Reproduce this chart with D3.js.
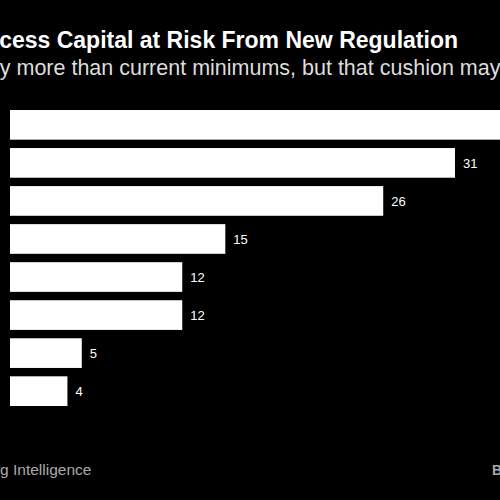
<!DOCTYPE html>
<html><head><meta charset="utf-8">
<script src="https://cdn.jsdelivr.net/npm/d3@7"></script>
<style>body{margin:0;background:#000}svg{display:block}</style>
</head><body>
<script>
// bar values, top to bottom (top bar runs off the crop)
const banks = ["A", "B", "C", "D", "E", "F", "G", "H"];
const values = [36, 31, 26, 15, 12, 12, 5, 4];
const labels = ["", "31", "26", "15", "12", "12", "5", "4"];

const W = 500, H = 500;
const svg = d3.select("body").append("svg").attr("width", W).attr("height", H)
    .style("background", "#000");

const x = d3.scaleLinear().domain([0, 31]).range([10, 455]);
const y = d3.scaleBand().domain(banks).range([110, 406]).paddingInner(0.22).paddingOuter(0);

const font = "Liberation Sans, Arial, sans-serif";

svg.append("text").attr("x", -29).attr("y", 48)
    .attr("fill", "#fff").attr("font-family", font)
    .attr("font-weight", "bold").attr("font-size", 23)
    .text("Excess Capital at Risk From New Regulation");
svg.append("text").attr("x", -103).attr("y", 75)
    .attr("fill", "#ddd").attr("font-family", font)
    .attr("font-size", 21.5)
    .text("Banks carry more than current minimums, but that cushion may shrink");

svg.selectAll("rect.bar").data(values).join("rect")
    .attr("class", "bar")
    .attr("x", x(0))
    .attr("y", (d, i) => y(banks[i]))
    .attr("width", d => x(d) - x(0))
    .attr("height", y.bandwidth())
    .attr("fill", "#fff");

svg.selectAll("text.val").data(values).join("text")
    .attr("class", "val")
    .attr("x", d => x(d) + 8)
    .attr("y", (d, i) => y(banks[i]) + y.bandwidth() / 2 + 5)
    .attr("fill", "#fff").attr("font-family", font)
    .attr("font-size", 13)
    .text((d, i) => labels[i]);

svg.append("text").attr("x", -124).attr("y", 475)
    .attr("fill", "#aaa").attr("font-family", font)
    .attr("font-size", 15.5)
    .text("Source: Bloomberg Intelligence");
svg.append("text").attr("x", 492).attr("y", 475)
    .attr("fill", "#aaa").attr("font-family", font)
    .attr("font-size", 14).attr("font-weight", "bold")
    .text("Bloomberg");
</script>
</body></html>
